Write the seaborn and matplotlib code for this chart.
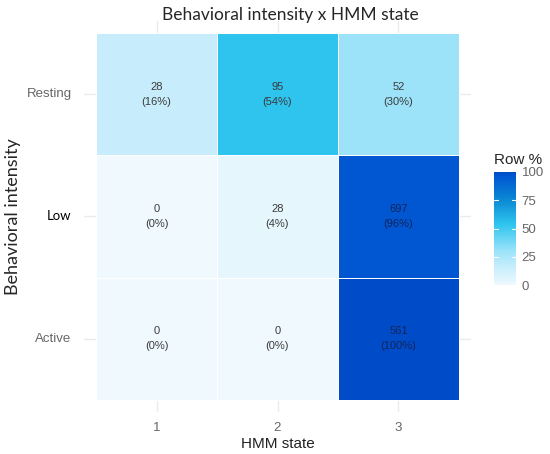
import numpy as np
import pandas as pd
import matplotlib
matplotlib.use("Agg")
import matplotlib.pyplot as plt
import seaborn as sns
from matplotlib.colors import LinearSegmentedColormap

# data
intensity = ["Resting", "Low", "Active"]
hmm_states = ["1", "2", "3"]
counts_resting = [28, 95, 52]
counts_low = [0, 28, 697]
counts_active = [0, 0, 561]

counts = pd.DataFrame([counts_resting, counts_low, counts_active],
                      index=intensity, columns=hmm_states)
row_pct = counts.div(counts.sum(axis=1), axis=0) * 100

labels = counts.astype(str) + "\n(" + row_pct.round().astype(int).astype(str) + "%)"

cmap = LinearSegmentedColormap.from_list("rowpct", [
    (0.00, "#F0FAFE"),
    (0.04, "#E3F6FD"),
    (0.16, "#C6EDFC"),
    (0.30, "#9BE3FA"),
    (0.54, "#2EC4EE"),
    (0.75, "#0C8AD4"),
    (0.96, "#0058D2"),
    (1.00, "#004CC8"),
])

sns.set_style("white")
plt.rcParams["font.family"] = ["Liberation Sans", "DejaVu Sans"]

fig = plt.figure(figsize=(5.5, 4.54), dpi=100)
ax = fig.add_axes([84 / 550, 1 - 412 / 454, 387 / 550, 391 / 454])
cax = fig.add_axes([494 / 550, 1 - 285 / 454, 22 / 550, 113 / 454])

# ggplot-like grid lines behind the tiles
for p in [0.5, 1.5, 2.5]:
    ax.axvline(p, color="#EBEBEB", lw=1, zorder=0)
    ax.axhline(p, color="#EBEBEB", lw=1, zorder=0)

sns.heatmap(row_pct, ax=ax, cbar_ax=cax, cmap=cmap, vmin=0, vmax=100,
            annot=labels, fmt="", linewidths=0.6, linecolor="white",
            annot_kws={"fontsize": 8, "linespacing": 1.55})

for t, v in zip(ax.texts, row_pct.values.flatten()):
    t.set_color("#14245c" if v > 60 else "#3b3b3b")

ax.set_xlim(-0.1, 3.1)
ax.set_ylim(3.1, -0.1)
ax.set_facecolor("none")
for s in ax.spines.values():
    s.set_visible(False)
ax.tick_params(axis="both", length=0)
ax.tick_params(axis="x", pad=7, labelsize=9.5, labelcolor="#666666")
ax.tick_params(axis="y", pad=9, labelsize=9.5, labelcolor="#666666")
ax.set_yticklabels(intensity, rotation=0)
for t in ax.get_yticklabels():
    if t.get_text() == "Low":
        t.set_family("Lato")
        t.set_color("black")
ax.set_xlabel("HMM state", fontsize=11, color="#222222", labelpad=2)
ax.set_ylabel("Behavioral intensity", fontsize=13, family="Lato")
ax.yaxis.set_label_coords((21 - 84) / 387, 0.5)

fig.text(290 / 550, 1 - 15 / 454, "Behavioral intensity x HMM state",
         ha="center", va="center", fontsize=12.5, family="Lato")

cb = ax.collections[0].colorbar
cb.set_ticks([0, 25, 50, 75, 100])
cb.outline.set_visible(False)
cax.tick_params(length=0, labelsize=9.5, labelcolor="#666666", pad=4)
for yv in [25, 50, 75]:
    cax.plot([0, 0.2], [yv, yv], color="white", lw=0.8, transform=cax.get_yaxis_transform())
    cax.plot([0.8, 1], [yv, yv], color="white", lw=0.8, transform=cax.get_yaxis_transform())
cax.set_title("Row %", fontsize=11, loc="left", pad=6)

fig.savefig("out.png", dpi=100)
